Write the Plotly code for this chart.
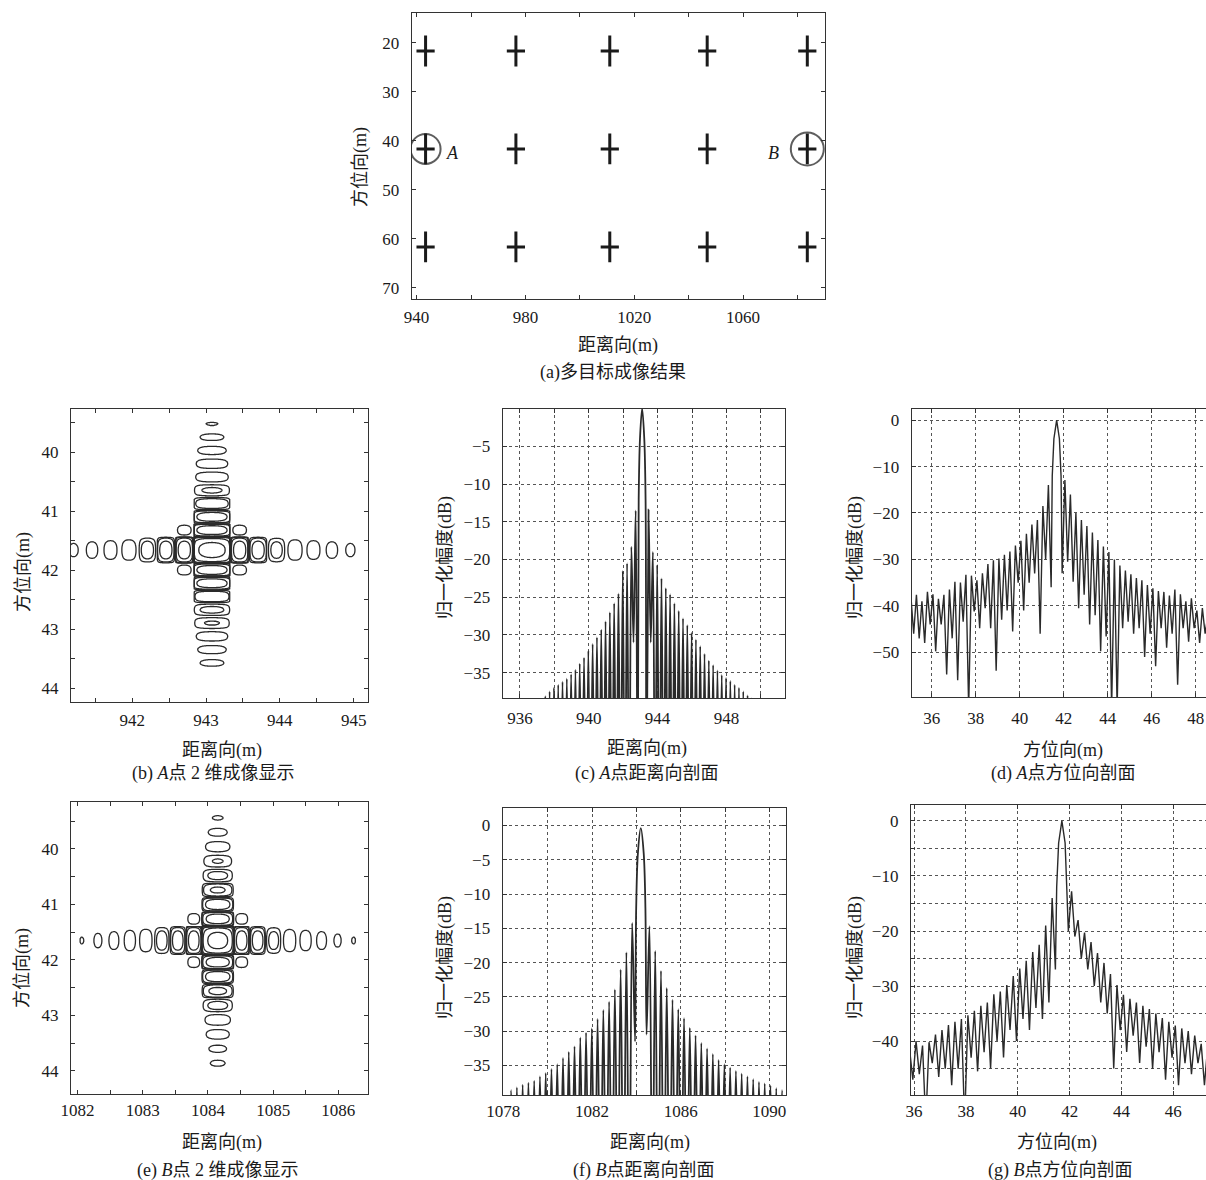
import numpy as np
import plotly.graph_objects as go

W, H = 1206, 1180
FONT_NUM = "Liberation Serif"
FONT_TXT = "Liberation Serif, Noto Sans CJK SC"
INK = "#1a1a1a"
GRID = "#555555"

# ---------------- (a) multi-target imaging result ----------------
target_range = [943.3, 976.5, 1011.0, 1046.8, 1083.6]
target_azimuth = [21.7, 41.7, 61.7]
marked_names = ["A", "B"]
marked_range = [943.3, 1083.6]
marked_azimuth = [41.7, 41.7]

# ---------------- (b) point A 2-D image: sidelobe peak levels (dB) ----------------
b_center = [943.08, 41.66]          # range, azimuth
b_spacing = [0.25, 0.225]           # range, azimuth lobe spacing (m)
b_mainlobe_gain = [0.55, 1.0]       # main-lobe broadening (range, azimuth)
b_range_left = [-14, -19, -24, -27.5, -28.5, -29.5, -30.5]
b_range_right = [-14, -19, -24.5, -27.5, -28.5, -29.5, -30.5]
b_az_top = [-14, -19, -23, -26, -28, -28.5, -29.5, -30.5, -31.7]
b_az_bottom = [-14, -19, -22, -25.5, -26.5, -28.5, -29.5, -30.5]

# ---------------- (e) point B 2-D image ----------------
e_center = [1084.15, 41.65]
e_spacing = [0.245, 0.26]
e_mainlobe_gain = [0.8, 1.0]
e_range_left = [-14, -19, -24, -27.3, -28.5, -29.5, -30.5, -31.7]
e_range_right = [-14, -19, -24.5, -27.5, -28.5, -29.5, -30.8, -31.7]
e_az_top = [-14, -18.5, -21, -25, -26.5, -28.5, -30.2, -31.5]
e_az_bottom = [-14, -18.5, -20.5, -25, -28, -29, -30.5, -31]

contour_levels = dict(start=-32, end=-2, size=5)

# ---------------- (c) point A range profile ----------------
c_center, c_step = 943.1, 0.25
c_main = [-12, -4, 0, -4, -12]
c_peaks_left = [-13.5, -18.3, -20.5, -21.5, -24.5, -25.8, -27.0, -28.2, -29.3, -30.3, -31.2,
                -32.1, -33.0, -33.8, -34.6, -35.2, -35.8, -36.2, -36.6, -37.0, -37.5, -38.1]
c_nulls_left = [-60, -31, -60, -60, -60, -60, -60, -60, -60, -60, -60, -60,
                -60, -60, -60, -60, -60, -60, -60, -60, -60, -60, -60]
c_peaks_right = [-13.4, -19.0, -20.7, -22.5, -23.8, -24.6, -25.8, -26.8, -27.8, -28.7, -29.7,
                 -30.6, -31.5, -32.5, -33.4, -34.0, -34.7, -35.3, -35.7, -36.1, -36.6, -37.0,
                 -37.5, -38.0, -38.4]
c_nulls_right = [-60, -31, -60, -60, -60, -60, -60, -60, -60, -60, -60, -60, -60,
                 -60, -60, -60, -60, -60, -60, -60, -60, -60, -60, -60, -60, -60]

# ---------------- (d) point A azimuth profile ----------------
d_center, d_step = 41.68, 0.25
d_main = [-12, -4, 0, -4, -12]
d_peaks_left = [-14.0, -18.5, -21.5, -22.5, -24.5, -26.0, -27.0, -28.3, -29.0, -29.8, -30.2,
                -31.0, -33.0, -34.5, -33.5, -33.3, -35.0, -34.8, -36.5, -37.6, -38.5, -37.5,
                -37.0, -39.0, -37.6, -38.0]
d_nulls_left = [-36.0, -30.0, -46.0, -33.0, -35.0, -41.0, -35.0, -45.5, -41.0, -43.0, -54.0,
                -44.8, -40.5, -44.8, -41.2, -62.0, -43.4, -56.0, -47.0, -54.8, -44.0, -49.8,
                -44.0, -48.0, -47.0, -46.0, -45.0]
d_peaks_right = [-12.9, -16.0, -20.0, -21.5, -22.8, -24.2, -25.8, -27.2, -28.4, -30.0, -31.3,
                 -32.4, -33.2, -34.0, -34.5, -35.5, -36.2, -36.8, -37.0, -37.8, -36.5, -37.5,
                 -39.0, -38.4, -41.0, -40.5, -42.0]
d_nulls_right = [-33.0, -30.5, -34.8, -40.5, -37.6, -44.0, -42.0, -49.8, -46.6, -62.0, -62.0,
                 -44.8, -43.4, -46.0, -44.8, -51.0, -46.0, -53.0, -44.8, -49.0, -46.0, -57.0,
                 -44.8, -47.7, -44.8, -48.0, -46.0, -47.0]

# ---------------- (f) point B range profile ----------------
f_center, f_step = 1084.2, 0.26
f_main = [-12, -4, -0.4, -4, -12]
f_peaks_left = [-14.2, -18.5, -21.0, -23.9, -25.7, -26.9, -28.2, -29.6, -30.2, -30.9, -32.2,
                -33.0, -33.9, -34.8, -35.5, -36.1, -36.6, -37.2, -37.5, -37.8, -38.2, -38.6]
f_nulls_left = [-31.5, -60, -60, -60, -60, -60, -60, -60, -60, -60, -60, -60,
                -60, -60, -60, -60, -60, -60, -60, -60, -60, -60, -60]
f_peaks_right = [-14.7, -18.3, -21.2, -23.7, -25.4, -26.8, -28.1, -29.5, -30.6, -31.7, -32.5,
                 -33.3, -34.2, -34.8, -35.3, -35.8, -36.2, -36.6, -37.0, -37.4, -37.6, -37.9,
                 -38.3, -38.6]
f_nulls_right = [-30.5, -60, -60, -60, -60, -60, -60, -60, -60, -60, -60, -60, -60,
                 -60, -60, -60, -60, -60, -60, -60, -60, -60, -60, -60, -60]

# ---------------- (g) point B azimuth profile ----------------
g_center, g_step = 41.7, 0.25
g_main = [-12, -4, 0, -4, -12]
g_peaks_left = [-14.0, -19.0, -22.5, -23.8, -25.4, -26.8, -28.2, -29.8, -31.0, -31.5, -33.0,
                -33.6, -34.5, -35.3, -36.0, -36.5, -37.1, -38.0, -38.8, -40.2, -40.8, -40.0,
                -41.5]
g_nulls_left = [-27.0, -33.0, -36.0, -34.0, -38.0, -36.0, -40.0, -38.0, -43.0, -40.0, -45.0,
                -42.0, -45.5, -43.0, -55.0, -45.0, -48.0, -45.0, -46.5, -44.0, -55.0, -46.0,
                -47.0, -49.0]
g_peaks_right = [-12.8, -18.0, -20.3, -22.0, -24.0, -25.8, -27.8, -29.8, -31.6, -32.3, -33.0,
                 -33.6, -34.2, -35.0, -35.8, -36.5, -37.2, -37.7, -38.2, -39.0, -40.5, -41.0]
g_nulls_right = [-20.0, -21.0, -25.0, -27.0, -30.0, -33.0, -35.0, -45.0, -38.0, -42.0, -39.0,
                 -44.0, -41.0, -45.0, -42.0, -47.0, -43.0, -48.0, -44.0, -46.0, -44.0, -48.0,
                 -46.0]


# ---------------- helpers ----------------
def build_profile(center, step, main_db, peaks_l, nulls_l, peaks_r, nulls_r):
    main_off = [-0.8, -0.5, 0.0, 0.5, 0.8]
    left, right = [], []
    for i, v in enumerate(nulls_l):
        left.append((-(i + 1) * step, v))
        if i < len(peaks_l):
            left.append((-(i + 1.5) * step, peaks_l[i]))
    for i, v in enumerate(nulls_r):
        right.append(((i + 1) * step, v))
        if i < len(peaks_r):
            right.append(((i + 1.5) * step, peaks_r[i]))
    pts = sorted(left) + [(o * step, v) for o, v in zip(main_off, main_db)] + sorted(right)
    return [center + o for o, _ in pts], [v for _, v in pts]


def lobe_cut(offsets, step, levels_neg, levels_pos, gain):
    a = np.abs(offsets)
    out = np.full(offsets.shape, -80.0)
    m = a < step
    out[m] = gain * 10 * np.log10(np.clip(np.cos(np.pi * a[m] / (2 * step)), 1e-8, None))
    for side, levels in ((offsets < 0, levels_neg), (offsets >= 0, levels_pos)):
        for k, lev in enumerate(levels):
            lo = step * (k + 1)
            mm = side & (a >= lo) & (a < lo + step)
            t = (a[mm] - lo) / step
            out[mm] = lev + 10 * np.log10(np.clip(np.sin(np.pi * t), 1e-8, None))
    return np.maximum(out, -80.0)


def image_2d(center, spacing, gain, r_left, r_right, a_top, a_bottom, xr, yr):
    xg = np.round(np.arange(xr[0], xr[1], 0.01), 3)
    yg = np.round(np.arange(yr[0], yr[1], 0.01), 3)
    rx = lobe_cut(xg - center[0], spacing[0], r_left, r_right, gain[0])
    ry = lobe_cut(yg - center[1], spacing[1], a_top, a_bottom, gain[1])
    z = np.round(ry[:, None] + rx[None, :], 1)
    return xg, yg, z


def dxp(a, b):
    return [a / W, min(b / W, 1.0)]


def dyp(top, bottom):
    return [1 - bottom / H, 1 - top / H]


def ax(domain, rng, **kw):
    d = dict(domain=domain, range=rng, showline=True, linecolor="#333", linewidth=1.3,
             mirror="ticks", ticks="inside", ticklen=4, tickcolor="#333", tickwidth=1,
             tickfont=dict(family=FONT_NUM, size=17, color=INK), zeroline=False,
             showgrid=False, automargin=False, fixedrange=True)
    d.update(kw)
    return d


gridkw = dict(showgrid=True, gridcolor=GRID, gridwidth=1, griddash="dot")

fig = go.Figure()

# (a) crosses and circles
cx = [r for a in target_azimuth for r in target_range]
cy = [a for a in target_azimuth for r in target_range]
fig.add_trace(go.Scatter(x=cx, y=cy, mode="markers", xaxis="x", yaxis="y", hoverinfo="skip",
                         marker=dict(symbol="line-ns", size=22, line=dict(width=3, color=INK))))
fig.add_trace(go.Scatter(x=cx, y=cy, mode="markers", xaxis="x", yaxis="y", hoverinfo="skip",
                         marker=dict(symbol="line-ew", size=13, line=dict(width=3, color=INK))))
fig.add_trace(go.Scatter(x=marked_range, y=marked_azimuth, mode="markers", xaxis="x", yaxis="y",
                         hoverinfo="skip",
                         marker=dict(symbol="circle-open", size=[30, 33], color=INK,
                                     line=dict(width=2, color=INK))))

# (b) and (e) contour images
for cen, sp, gn, rl, rr, at, ab, xr, yr, xa, ya in [
    (b_center, b_spacing, b_mainlobe_gain, b_range_left, b_range_right, b_az_top, b_az_bottom,
     (941.1, 945.3), (39.2, 44.3), "x2", "y2"),
    (e_center, e_spacing, e_mainlobe_gain, e_range_left, e_range_right, e_az_top, e_az_bottom,
     (1081.85, 1086.5), (39.1, 44.5), "x5", "y5"),
]:
    xg, yg, z = image_2d(cen, sp, gn, rl, rr, at, ab, xr, yr)
    fig.add_trace(go.Contour(x=xg, y=yg, z=z, xaxis=xa, yaxis=ya, showscale=False,
                             hoverinfo="skip", contours=dict(coloring="lines", **contour_levels),
                             colorscale=[[0, "#2a2a2a"], [1, "#2a2a2a"]],
                             line=dict(width=1.3, smoothing=0.8)))

# profiles
for args, xa, ya, shape, lw in [
    ((c_center, c_step, c_main, c_peaks_left, c_nulls_left, c_peaks_right, c_nulls_right), "x3", "y3", "spline", 1.8),
    ((d_center, d_step, d_main, d_peaks_left, d_nulls_left, d_peaks_right, d_nulls_right), "x4", "y4", "linear", 1.4),
    ((f_center, f_step, f_main, f_peaks_left, f_nulls_left, f_peaks_right, f_nulls_right), "x6", "y6", "spline", 1.8),
    ((g_center, g_step, g_main, g_peaks_left, g_nulls_left, g_peaks_right, g_nulls_right), "x7", "y7", "linear", 1.4),
]:
    px, py = build_profile(*args)
    fig.add_trace(go.Scatter(x=px, y=py, mode="lines", xaxis=xa, yaxis=ya, hoverinfo="skip",
                             line=dict(color="#2a2a2a", width=lw, shape=shape)))

minor_t = lambda d, **kw: dict(dtick=d, ticks="inside", ticklen=4, tickcolor="#333", **kw)
minor_g = lambda d, t0: dict(dtick=d, tick0=t0, ticks="inside", ticklen=4, tickcolor="#333",
                             showgrid=True, gridcolor=GRID, gridwidth=1, griddash="dot")

fig.update_layout(
    width=W, height=H, margin=dict(l=0, r=0, t=0, b=0), showlegend=False,
    paper_bgcolor="white", plot_bgcolor="white",
    xaxis=ax(dxp(411.7, 825), [938.2, 1090.1], anchor="y", tick0=940, dtick=40,
             minor=minor_t(20, tick0=940), ticklabelstandoff=2),
    yaxis=ax(dyp(13.3, 299.3), [72.4, 14.0], anchor="x", tick0=0, dtick=10, ticklabelstandoff=8),
    xaxis2=ax(dxp(71, 367.7), [941.17, 945.19], anchor="y2", tick0=942, dtick=1,
              minor=minor_t(0.5, tick0=942), ticklabelstandoff=2),
    yaxis2=ax(dyp(409, 702.3), [44.24, 39.27], anchor="x2", tick0=40, dtick=1,
              minor=minor_t(0.5, tick0=40), ticklabelstandoff=8),
    xaxis3=ax(dxp(502.7, 785), [935.0, 951.4], anchor="y3", tick0=936, dtick=4,
              minor=minor_g(2, 936), ticklabelstandoff=4, **gridkw),
    yaxis3=ax(dyp(409, 698.3), [-38.4, -0.05], anchor="x3", tick0=0, dtick=5,
              ticklabelstandoff=8, **gridkw),
    xaxis4=ax(dxp(911.7, 1206), [35.09, 48.47], anchor="y4", tick0=36, dtick=2,
              ticklabelstandoff=5, **gridkw),
    yaxis4=ax(dyp(409, 697.3), [-59.7, 2.4], anchor="x4", tick0=0, dtick=10, mirror=False,
              ticklabelstandoff=8, **gridkw),
    xaxis5=ax(dxp(71, 367.7), [1081.9, 1086.45], anchor="y5", tick0=1082, dtick=1,
              minor=minor_t(0.5, tick0=1082), ticklabelstandoff=0),
    yaxis5=ax(dyp(802.3, 1094.3), [44.42, 39.16], anchor="x5", tick0=40, dtick=1,
              minor=minor_t(0.5, tick0=40), ticklabelstandoff=8),
    xaxis6=ax(dxp(502.7, 786), [1077.97, 1090.75], anchor="y6", tick0=1078, dtick=4,
              minor=minor_g(2, 1078), ticklabelstandoff=0, **gridkw),
    yaxis6=ax(dyp(808.3, 1095), [-39.3, 2.5], anchor="x6", tick0=0, dtick=5,
              ticklabelstandoff=8, **gridkw),
    xaxis7=ax(dxp(911, 1206), [35.88, 47.26], anchor="y7", tick0=36, dtick=2,
              ticklabelstandoff=0, **gridkw),
    yaxis7=ax(dyp(805, 1095), [-49.8, 2.9], anchor="x7", tick0=0, dtick=10, mirror=False,
              minor=minor_g(5, 0), ticklabelstandoff=8, **gridkw),
)


def ann(text, px, py, size=18, angle=0):
    fig.add_annotation(text=text, x=px / W, y=1 - py / H, xref="paper", yref="paper",
                       showarrow=False, xanchor="center", yanchor="middle", textangle=angle,
                       font=dict(family=FONT_TXT, size=size, color=INK))


ann("距离向(m)", 618, 345)
ann("(a)多目标成像结果", 613, 373)
ann("方位向(m)", 361, 167, angle=-90)

ann("距离向(m)", 222, 750)
ann("(b) <i>A</i>点 2 维成像显示", 213, 773)
ann("方位向(m)", 23, 572, angle=-90)

ann("距离向(m)", 647, 748)
ann("(c) <i>A</i>点距离向剖面", 647, 773)
ann("归一化幅度(dB)", 445, 558, angle=-90)

ann("方位向(m)", 1063, 750)
ann("(d) <i>A</i>点方位向剖面", 1063, 773)
ann("归一化幅度(dB)", 855, 558, angle=-90)

ann("距离向(m)", 222, 1142)
ann("(e) <i>B</i>点 2 维成像显示", 217, 1170)
ann("方位向(m)", 23, 968, angle=-90)

ann("距离向(m)", 650, 1142)
ann("(f) <i>B</i>点距离向剖面", 643, 1170)
ann("归一化幅度(dB)", 445, 958, angle=-90)

ann("方位向(m)", 1057, 1142)
ann("(g) <i>B</i>点方位向剖面", 1060, 1170)
ann("归一化幅度(dB)", 855, 958, angle=-90)

# point labels A / B in panel (a)
for name, xr_, ya_, shift in zip(marked_names, marked_range, marked_azimuth, [27, -34]):
    fig.add_annotation(text=f"<i>{name}</i>", x=xr_, y=ya_, xref="x", yref="y", showarrow=False,
                       xshift=shift, yshift=-4, font=dict(family=FONT_NUM, size=18, color=INK))

fig.write_html(
    "out.html",
    config={"displayModeBar": False},
    post_script="document.body.style.margin='0';document.body.style.padding='0';"
                "document.body.style.overflow='hidden';",
)
